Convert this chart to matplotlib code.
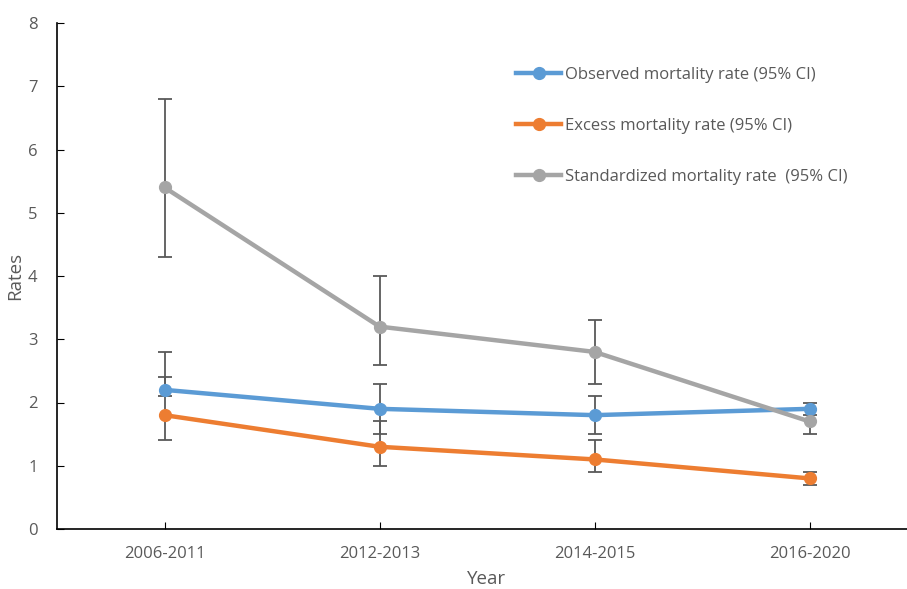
import numpy as np
import matplotlib.pyplot as plt

plt.rcParams['font.family'] = ['Open Sans', 'DejaVu Sans']

years = ["2006-2011", "2012-2013", "2014-2015", "2016-2020"]

observed = [2.2, 1.9, 1.8, 1.9]
observed_lo = [2.1, 1.5, 1.5, 1.8]
observed_hi = [2.8, 2.3, 2.1, 2.0]

excess = [1.8, 1.3, 1.1, 0.8]
excess_lo = [1.4, 1.0, 0.9, 0.7]
excess_hi = [2.4, 1.7, 1.4, 0.9]

standardized = [5.4, 3.2, 2.8, 1.7]
standardized_lo = [4.3, 2.6, 2.3, 1.5]
standardized_hi = [6.8, 4.0, 3.3, 1.9]

series = [
    ("Observed mortality rate (95% CI)", observed, observed_lo, observed_hi, "#5B9BD5"),
    ("Excess mortality rate (95% CI)", excess, excess_lo, excess_hi, "#ED7D31"),
    ("Standardized mortality rate  (95% CI)", standardized, standardized_lo, standardized_hi, "#A5A5A5"),
]

txt = "#595959"
fig = plt.figure(figsize=(9.07, 5.89), dpi=100)
ax = fig.add_axes([57 / 907, 60 / 589, 860 / 907, 506 / 589])

x = np.arange(len(years))
for label, vals, lo, hi, col in series:
    vals = np.array(vals)
    err = [vals - np.array(lo), np.array(hi) - vals]
    ax.errorbar(x, vals, yerr=err, fmt="none", ecolor="#595959", elinewidth=1.3,
                capsize=5, capthick=1.3, zorder=2)
    ax.plot(x, vals, color=col, lw=3.2, marker="o", ms=8.5, label=label, zorder=3)

ax.set_xlim(-0.5, 3.5)
ax.set_ylim(0, 8)
ax.set_xticks(x)
ax.set_xticklabels(years)
ax.set_yticks(range(0, 9))
for s in ["top", "right"]:
    ax.spines[s].set_visible(False)
for s in ["left", "bottom"]:
    ax.spines[s].set_color("black")
    ax.spines[s].set_linewidth(1.2)
ax.tick_params(direction="in", length=5, colors="black", labelcolor=txt, labelsize=12)
ax.tick_params(axis="y", pad=14)
ax.tick_params(axis="x", pad=12)
ax.set_xlabel("Year", color=txt, fontsize=13.5, labelpad=6)
ax.set_ylabel("Rates", color=txt, fontsize=13.5, labelpad=3)

leg = ax.legend(loc="center left", bbox_to_anchor=(0.534, 0.796), frameon=False,
                fontsize=12, labelspacing=2.1, handlelength=2.7, handletextpad=0.2,
                borderpad=0, borderaxespad=0, labelcolor=txt)

fig.savefig("out.png", dpi=100)
